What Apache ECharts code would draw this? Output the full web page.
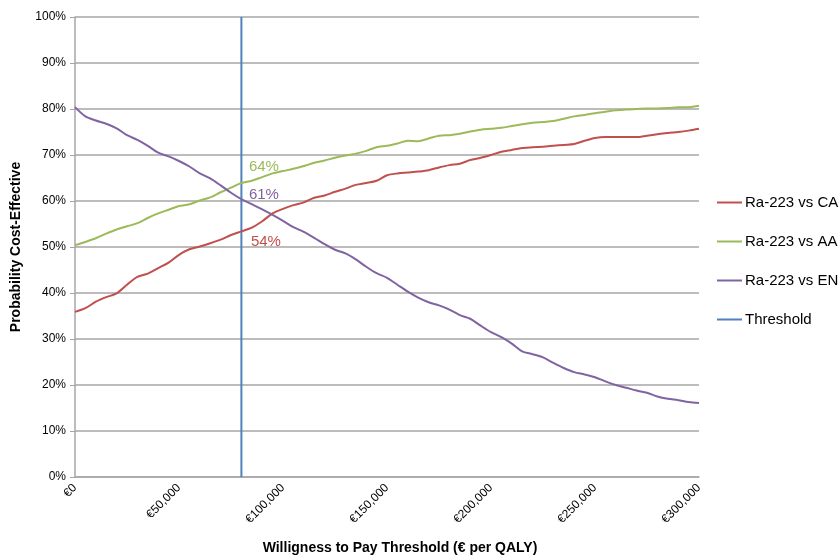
<!DOCTYPE html>
<html>
<head>
<meta charset="utf-8">
<script src="https://cdn.jsdelivr.net/npm/echarts@6/dist/echarts.min.js"></script>
<style>
html,body{margin:0;padding:0;background:#fff;}
#chart{width:839px;height:555px;}
</style>
</head>
<body>
<div id="chart"></div>
<script>
// Willingness to pay (€ per QALY), step 5,000
var wtp = [];
for (var i = 0; i <= 60; i++) wtp.push(i * 5000);

var seriesNames = ['Ra-223 vs CA', 'Ra-223 vs AA', 'Ra-223 vs EN', 'Threshold'];

var raVsCA = [35.9,36.7,38.1,39.1,39.9,41.8,43.5,44.2,45.4,46.6,48.3,49.5,50.1,50.8,51.6,52.6,53.4,54.2,55.6,57.3,
  58.3,59.1,59.7,60.7,61.2,62.0,62.7,63.5,63.9,64.4,65.6,66.0,66.2,66.4,66.7,67.3,67.8,68.1,68.9,69.4,
  70.0,70.7,71.1,71.5,71.7,71.8,72.0,72.2,72.4,73.1,73.7,73.9,73.9,73.9,73.9,74.2,74.5,74.8,75.0,75.3,75.7];

var raVsAA = [50.4,51.1,51.9,52.9,53.8,54.5,55.2,56.3,57.3,58.1,58.9,59.3,60.1,60.8,61.9,62.9,63.9,64.4,65.2,66.0,
  66.5,67.0,67.6,68.3,68.8,69.4,69.9,70.3,70.9,71.7,72.0,72.5,73.1,73.0,73.6,74.2,74.3,74.6,75.1,75.5,
  75.7,75.9,76.3,76.7,77.0,77.2,77.4,77.9,78.4,78.7,79.1,79.4,79.7,79.9,80.0,80.1,80.1,80.2,80.4,80.4,80.7];

var raVsEN = [80.4,78.4,77.5,76.8,75.8,74.3,73.3,72.0,70.5,69.7,68.7,67.5,66.0,64.9,63.4,61.8,60.4,59.3,58.2,57.0,
  55.7,54.3,53.3,52.0,50.6,49.4,48.6,47.3,45.7,44.3,43.3,41.8,40.3,39.0,38.0,37.3,36.4,35.2,34.4,32.9,
  31.5,30.4,29.0,27.3,26.7,26.0,24.8,23.7,22.8,22.3,21.7,20.8,20.0,19.4,18.8,18.3,17.5,17.0,16.7,16.3,16.1];

var thresholdWtp = 80000;
var thresholdLabels = ['54%', '64%', '61%'];   // CA, AA, EN at threshold
var xTicks = [0, 50000, 100000, 150000, 200000, 250000, 300000];

var colors = ['#C0504D', '#9BBB59', '#8064A2', '#4F81BD'];
var FONT = '"Liberation Sans", Arial, sans-serif';

function pairs(vals) {
  return wtp.map(function (x, i) { return [x, vals[i]]; });
}
function fmtEuro(v) {
  return '€' + String(v).replace(/\B(?=(\d{3})+(?!\d))/g, ',');
}

var labelOffsets = [[9, 10], [7, -16], [7, -4]];
var curveData = [raVsCA, raVsAA, raVsEN];

function lineSeries(idx) {
  var vals = curveData[idx];
  var k = wtp.indexOf(thresholdWtp);
  return {
    name: seriesNames[idx],
    type: 'line',
    data: pairs(vals),
    showSymbol: false,
    symbol: 'none',
    smooth: 0.3,
    lineStyle: { color: colors[idx], width: 2 },
    itemStyle: { color: colors[idx] },
    z: 3,
    markPoint: {
      symbol: 'circle',
      symbolSize: 1,
      itemStyle: { color: 'rgba(0,0,0,0)' },
      label: {
        show: true,
        position: 'right',
        distance: 0,
        offset: labelOffsets[idx],
        color: colors[idx],
        fontFamily: FONT,
        fontSize: 15,
        formatter: thresholdLabels[idx]
      },
      data: [{ coord: [thresholdWtp, vals[k]] }]
    }
  };
}

var chart = echarts.init(document.getElementById('chart'), null, { renderer: 'canvas' });
chart.setOption({
  animation: false,
  backgroundColor: '#fff',
  textStyle: { fontFamily: FONT },
  grid: { left: 75, right: 140, top: 17, bottom: 78, containLabel: false, outerBoundsMode: 'none' },
  legend: {
    orient: 'vertical',
    left: 712,
    top: 190,
    itemWidth: 25,
    itemHeight: 2,
    itemGap: 24,
    icon: 'rect',
    textStyle: { fontSize: 15, color: '#000', fontFamily: FONT, padding: [0, 0, 0, -2] },
    data: seriesNames
  },
  xAxis: {
    type: 'value',
    min: 0,
    max: 300000,
    interval: 50000,
    name: 'Willigness to Pay Threshold (€ per QALY)',
    nameLocation: 'middle',
    nameGap: 64,
    nameTextStyle: { fontSize: 14, fontWeight: 'bold', color: '#000', fontFamily: FONT, padding: [0, 0, 0, 26] },
    axisLine: { show: true, lineStyle: { color: '#A6A6A6', width: 1.5 } },
    axisTick: { show: false },
    splitLine: { show: false },
    axisLabel: {
      rotate: 45,
      fontSize: 12,
      color: '#000',
      margin: 9,
      fontFamily: FONT,
      formatter: function (v) { return xTicks.indexOf(v) >= 0 ? fmtEuro(v) : ''; }
    }
  },
  yAxis: {
    type: 'value',
    min: 0,
    max: 100,
    interval: 10,
    name: 'Probability Cost-Effective',
    nameLocation: 'middle',
    nameGap: 52,
    nameTextStyle: { fontSize: 14, fontWeight: 'bold', color: '#000', fontFamily: FONT },
    axisLine: { show: true, lineStyle: { color: '#A6A6A6', width: 1.5 } },
    axisTick: { show: true, length: 5, lineStyle: { color: '#A6A6A6', width: 1 } },
    splitLine: { show: true, lineStyle: { color: '#A6A6A6', width: 1.5 } },
    axisLabel: { fontSize: 12, color: '#000', margin: 9, fontFamily: FONT, formatter: '{value}%' }
  },
  series: [
    lineSeries(0),
    lineSeries(1),
    lineSeries(2),
    {
      name: seriesNames[3],
      type: 'line',
      data: [[thresholdWtp, 0], [thresholdWtp, 100]],
      showSymbol: false,
      symbol: 'none',
      lineStyle: { color: colors[3], width: 2 },
      itemStyle: { color: colors[3] },
      z: 2
    }
  ]
});
</script>
</body>
</html>
